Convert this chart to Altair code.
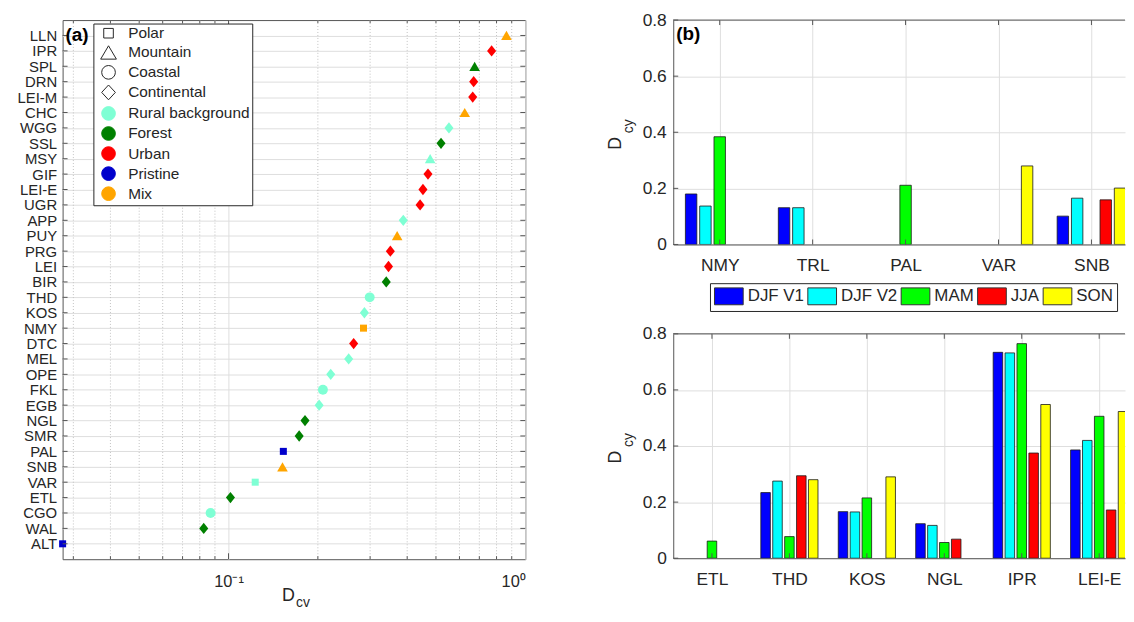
import json
import altair as alt
import pandas as pd

# ---------------- Panel (a) data ----------------
sites_a = ["LLN", "IPR", "SPL", "DRN", "LEI-M", "CHC", "WGG", "SSL", "MSY", "GIF",
           "LEI-E", "UGR", "APP", "PUY", "PRG", "LEI", "BIR", "THD", "KOS", "NMY",
           "DTC", "MEL", "OPE", "FKL", "EGB", "NGL", "SMR", "PAL", "SNB", "VAR",
           "ETL", "CGO", "WAL", "ALT"]
dcv_values = [0.864, 0.770, 0.675, 0.670, 0.665, 0.625, 0.553, 0.520, 0.478, 0.470,
              0.452, 0.442, 0.388, 0.370, 0.351, 0.346, 0.340, 0.299, 0.287, 0.285,
              0.264, 0.254, 0.221, 0.208, 0.202, 0.181, 0.173, 0.153, 0.152, 0.123,
              0.1015, 0.087, 0.0825, 0.0276]
site_types = ["Mountain", "Continental", "Mountain", "Continental", "Continental", "Mountain",
              "Continental", "Continental", "Mountain", "Continental", "Continental", "Continental",
              "Continental", "Mountain", "Continental", "Continental", "Continental", "Coastal",
              "Continental", "Polar", "Continental", "Continental", "Continental", "Coastal",
              "Continental", "Continental", "Continental", "Polar", "Mountain", "Polar",
              "Continental", "Coastal", "Continental", "Polar"]
site_classes = ["Mix", "Urban", "Forest", "Urban", "Urban", "Mix", "Rural background", "Forest",
                "Rural background", "Urban", "Urban", "Urban", "Rural background", "Mix", "Urban",
                "Urban", "Forest", "Rural background", "Rural background", "Mix", "Urban",
                "Rural background", "Rural background", "Rural background", "Rural background",
                "Forest", "Forest", "Pristine", "Mix", "Rural background", "Forest",
                "Rural background", "Forest", "Pristine"]

type_names = ["Polar", "Mountain", "Coastal", "Continental"]
class_names = ["Rural background", "Forest", "Urban", "Pristine", "Mix"]
legend_labels = type_names + class_names

x_major_ticks = [0.1, 1.0]
x_minor_ticks = [0.03, 0.04, 0.05, 0.06, 0.07, 0.08, 0.09,
                 0.2, 0.3, 0.4, 0.5, 0.6, 0.7, 0.8, 0.9]

# ---------------- Panel (b) data ----------------
seasons = ["DJF V1", "DJF V2", "MAM", "JJA", "SON"]

top_sites = ["NMY", "TRL", "PAL", "VAR", "SNB"]
top_djf_v1 = [0.180, 0.131, None, None, 0.101]
top_djf_v2 = [0.137, 0.131, None, None, 0.165]
top_mam = [0.384, None, 0.211, None, None]
top_jja = [None, None, None, None, 0.159]
top_son = [None, None, None, 0.280, 0.201]

bottom_sites = ["ETL", "THD", "KOS", "NGL", "IPR", "LEI-E"]
bottom_djf_v1 = [None, 0.234, 0.166, 0.123, 0.734, 0.386]
bottom_djf_v2 = [None, 0.275, 0.165, 0.117, 0.732, 0.420]
bottom_mam = [0.061, 0.077, 0.215, 0.056, 0.765, 0.506]
bottom_jja = [None, 0.294, None, 0.068, 0.375, 0.172]
bottom_son = [None, 0.280, 0.290, None, 0.548, 0.523]

y_ticks_b = [0, 0.2, 0.4, 0.6, 0.8]

# ---------------- styles ----------------
FONT = "Liberation Sans"
TXT = "#262626"
GRID = "#dedede"
MINOR = "#c2c2c2"
FRAME = "#555555"
class_colors = ["#7FFFD4", "#008000", "#FF0000", "#0000CC", "#FFA500"]
season_colors = ["#0000FF", "#00FFFF", "#00FF00", "#FF0000", "#FFFF00"]
DIAMOND = "M0,-1L0.8,0L0,1L-0.8,0Z"
shape_of_type = {"Polar": ("square", 50), "Mountain": ("triangle-up", 115),
                 "Coastal": ("circle", 100), "Continental": (DIAMOND, 130)}
legend_shapes = ["M-0.7,-0.7L0.7,-0.7L0.7,0.7L-0.7,0.7Z", "M0,-0.95L1.15,1L-1.15,1Z",
                 "circle", "M0,-1.08L1,0L0,1.08L-1,0Z"] + ["circle"] * 5
legend_fill = ["transparent"] * 4 + class_colors
legend_stroke = [TXT] * 4 + class_colors
SWATCH = "M-1.7,-1L1.7,-1L1.7,1L-1.7,1Z"

WA, HA = 466, 543
WB, HB = 455, 226

# ---------------- Panel (a) ----------------
df_a = pd.DataFrame({"site": sites_a, "dcv": dcv_values, "type": site_types, "cls": site_classes})

xa = alt.X("dcv:Q",
           scale=alt.Scale(type="log", domain=[0.0276, 1.0], nice=False),
           axis=alt.Axis(values=x_major_ticks,
                         labelExpr="datum.value >= 1 ? '10⁰' : '10⁻¹'",
                         grid=True, gridColor=GRID, ticks=False, tickSize=0, domain=False,
                         labelFontSize=16.5, labelPadding=14, title=None))
ya = alt.Y("site:N", sort=sites_a,
           scale=alt.Scale(type="point", padding=1),
           axis=alt.Axis(grid=True, gridColor=GRID, ticks=False, tickSize=0, domain=False,
                         labelFontSize=15, labelPadding=6, title=None))

minor_df = pd.DataFrame({"dcv": x_minor_ticks})
major_df = pd.DataFrame({"dcv": [x_major_ticks[0]]})
site_df = pd.DataFrame({"site": sites_a})

minor_grid = alt.Chart(minor_df).mark_rule(color=MINOR, strokeDash=[1, 2], strokeWidth=1).encode(
    x="dcv:Q", y=alt.value(0), y2=alt.value(HA))

point_layers = []
for t in type_names:
    shp, sz = shape_of_type[t]
    point_layers.append(
        alt.Chart(df_a).transform_filter(alt.datum.type == t).mark_point(
            filled=True, opacity=1, shape=shp, size=sz, strokeWidth=0
        ).encode(
            x="dcv:Q",
            y=alt.Y("site:N", sort=sites_a),
            color=alt.Color("cls:N", scale=alt.Scale(domain=class_names, range=class_colors), legend=None),
        )
    )

leg_a = alt.Legend(title=None, orient="none", legendX=31, legendY=3.5, padding=2,
                   strokeColor=TXT, fillColor="white", labelFontSize=15.5, labelColor=TXT,
                   rowPadding=1.2, labelOffset=12, symbolOffset=5.5, symbolSize=190,
                   symbolStrokeWidth=1, symbolOpacity=1, labelLimit=400)
dummy_df = pd.DataFrame({"label": legend_labels, "dcv": [None] * len(legend_labels)})
dummy = alt.Chart(dummy_df).mark_point(opacity=1, strokeWidth=1, size=190).encode(
    x="dcv:Q",
    shape=alt.Shape("label:N", scale=alt.Scale(domain=legend_labels, range=legend_shapes), legend=leg_a),
    fill=alt.Fill("label:N", scale=alt.Scale(domain=legend_labels, range=legend_fill), legend=leg_a),
    stroke=alt.Stroke("label:N", scale=alt.Scale(domain=legend_labels, range=legend_stroke), legend=leg_a),
)

ytick_l = alt.Chart(site_df).mark_rule(color=FRAME).encode(
    y=alt.Y("site:N", sort=sites_a), x=alt.value(0), x2=alt.value(5))
ytick_r = alt.Chart(site_df).mark_rule(color=FRAME).encode(
    y=alt.Y("site:N", sort=sites_a), x=alt.value(WA - 5), x2=alt.value(WA))
mtick_b = alt.Chart(minor_df).mark_rule(color=FRAME).encode(x="dcv:Q", y=alt.value(HA), y2=alt.value(HA - 3))
mtick_t = alt.Chart(minor_df).mark_rule(color=FRAME).encode(x="dcv:Q", y=alt.value(0), y2=alt.value(3))
Mtick_b = alt.Chart(major_df).mark_rule(color=FRAME).encode(x="dcv:Q", y=alt.value(HA), y2=alt.value(HA - 6))
Mtick_t = alt.Chart(major_df).mark_rule(color=FRAME).encode(x="dcv:Q", y=alt.value(0), y2=alt.value(6))

tag_a = alt.Chart(pd.DataFrame({"t": ["(a)"]})).mark_text(
    align="left", baseline="middle", fontSize=19, fontWeight="bold", color="#000000"
).encode(text="t:N", x=alt.value(3), y=alt.value(15))
title_a_main = alt.Chart(pd.DataFrame({"t": ["D"]})).mark_text(
    align="left", baseline="middle", fontSize=18, color=TXT
).encode(text="t:N", x=alt.value(221), y=alt.value(580))
title_a_sub = alt.Chart(pd.DataFrame({"t": ["cv"]})).mark_text(
    align="left", baseline="middle", fontSize=14, color=TXT
).encode(text="t:N", x=alt.value(235), y=alt.value(587))

main_pts = alt.Chart(df_a).mark_point(opacity=0).encode(x=xa, y=ya)

panel_a = alt.layer(
    minor_grid, main_pts, *point_layers, dummy, ytick_l, ytick_r, mtick_b, mtick_t, Mtick_b, Mtick_t,
    tag_a, title_a_main, title_a_sub
).properties(width=WA, height=HA, view=alt.ViewBackground(stroke=FRAME, strokeWidth=1))


# ---------------- Panel (b) ----------------
def bar_panel(sites, series, xmax, tag, legend):
    n = len(sites)
    rows = []
    for si, name in enumerate(seasons):
        for ci in range(n):
            v = series[si][ci]
            if v is not None:
                rows.append({"idx": ci + 1, "sidx": si, "season": name, "value": v})
    df = pd.DataFrame(rows)
    xscale = alt.Scale(domain=[0.5, xmax], nice=False, zero=False)
    label_expr = json.dumps(sites) + "[datum.value - 1]"
    bars = alt.Chart(df).transform_calculate(
        xc="datum.idx + (datum.sidx - 2) * 0.1538"
    ).transform_calculate(
        x0="datum.xc - 0.0615", x1="datum.xc + 0.0615", zero="0"
    ).mark_rect(stroke="#1a1a1a", strokeWidth=0.8, clip=True).encode(
        x=alt.X("x0:Q", scale=xscale,
                axis=alt.Axis(values=list(range(1, n + 1)), labelExpr=label_expr, grid=True,
                              gridColor=GRID, ticks=False, tickSize=0, domain=True, domainColor=FRAME,
                              labelFontSize=17.5, labelPadding=12, title=None)),
        x2="x1:Q",
        y=alt.Y("value:Q", scale=alt.Scale(domain=[0, 0.8], nice=False),
                axis=alt.Axis(values=y_ticks_b, format=".1~f", grid=True, gridColor=GRID,
                              ticks=False, tickSize=0, domain=True, domainColor=FRAME,
                              labelFontSize=17.5, labelPadding=7, title=None)),
        y2="zero:Q",
        color=alt.Color("season:N", scale=alt.Scale(domain=seasons, range=season_colors), legend=legend),
    )
    xt = pd.DataFrame({"x0": list(range(1, n + 1))})
    yt = pd.DataFrame({"value": y_ticks_b})
    xtick_b = alt.Chart(xt).mark_rule(color=FRAME).encode(x="x0:Q", y=alt.value(HB), y2=alt.value(HB - 5))
    xtick_t = alt.Chart(xt).mark_rule(color=FRAME).encode(x="x0:Q", y=alt.value(0), y2=alt.value(5))
    ytick = alt.Chart(yt).mark_rule(color=FRAME).encode(y="value:Q", x=alt.value(0), x2=alt.value(5))
    top_border = alt.Chart(pd.DataFrame({"k": [0]})).mark_rule(color=FRAME).encode(
        x=alt.value(0), x2=alt.value(WB), y=alt.value(0))
    t_main = alt.Chart(pd.DataFrame({"t": ["D"]})).mark_text(
        angle=270, align="center", baseline="middle", fontSize=18, color=TXT
    ).encode(text="t:N", x=alt.value(-58), y=alt.value(124))
    t_sub = alt.Chart(pd.DataFrame({"t": ["cy"]})).mark_text(
        angle=270, align="center", baseline="middle", fontSize=14, color=TXT
    ).encode(text="t:N", x=alt.value(-45), y=alt.value(107))
    layers = [bars, xtick_b, xtick_t, ytick, top_border, t_main, t_sub]
    if tag:
        layers.append(alt.Chart(pd.DataFrame({"t": [tag]})).mark_text(
            align="left", baseline="middle", fontSize=19, fontWeight="bold", color="#000000"
        ).encode(text="t:N", x=alt.value(3), y=alt.value(14)))
    return alt.layer(*layers).properties(
        width=WB, height=HB, view=alt.ViewBackground(stroke="transparent"))


leg_b = alt.Legend(title=None, orient="none", direction="horizontal", legendX=37, legendY=265,
                   padding=4, strokeColor=TXT, fillColor="white", labelFontSize=17, labelColor=TXT,
                   symbolType=SWATCH, symbolSize=289, symbolOffset=6, labelOffset=10,
                   symbolStrokeColor="#333333", symbolStrokeWidth=1, symbolOpacity=1,
                   columnPadding=1, labelLimit=200)

top_panel = bar_panel(top_sites, [top_djf_v1, top_djf_v2, top_mam, top_jja, top_son],
                      0.5 + WB / 93.6, "(b)", leg_b)
bottom_panel = bar_panel(bottom_sites, [bottom_djf_v1, bottom_djf_v2, bottom_mam, bottom_jja, bottom_son],
                         0.5 + WB / 78.0, None, None)

right = alt.vconcat(top_panel, bottom_panel, spacing=90, bounds="flush").resolve_scale(color="independent")

chart = alt.hconcat(panel_a, right, spacing=149, bounds="flush").resolve_scale(
    color="independent", fill="independent", stroke="independent", shape="independent"
).properties(
    padding={"left": 8, "top": 0, "right": 0, "bottom": -3},
    background="white",
).configure_axis(
    labelFont=FONT, labelColor=TXT, titleFont=FONT
).configure_legend(
    labelFont=FONT, labelColor=TXT
).configure_text(
    font=FONT
)

chart.save("out.html", embed_options={"renderer": "svg", "actions": False})
